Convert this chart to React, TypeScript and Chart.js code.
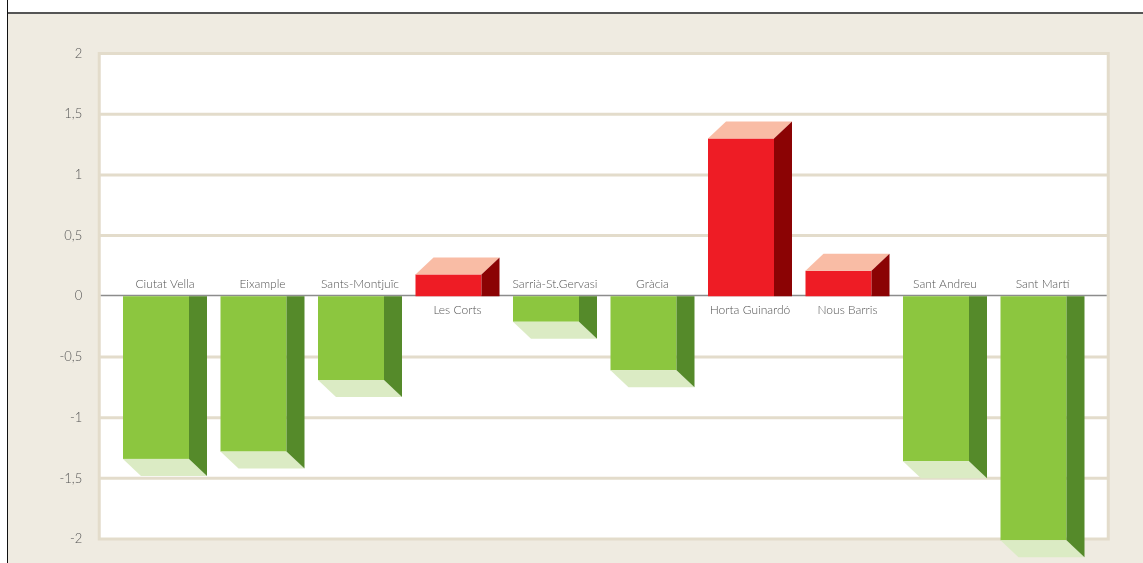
import React, { useEffect, useRef } from "react";
import { Chart, registerables } from "chart.js";

Chart.register(...registerables);

const categories = [
  "Ciutat Vella",
  "Eixample",
  "Sants-Montjuïc",
  "Les Corts",
  "Sarrià-St.Gervasi",
  "Gràcia",
  "Horta Guinardó",
  "Nous Barris",
  "Sant Andreu",
  "Sant Martí",
];
const values = [-1.34, -1.28, -0.69, 0.18, -0.21, -0.61, 1.3, 0.21, -1.36, -2.01];
const yMin = -2;
const yMax = 2;
const yStep = 0.5;

const BG = "#efebe1";
const GRID = "#e3dccb";
const GREEN = { front: "#8cc63f", side: "#558a2a", cap: "#dbebc4" };
const RED = { front: "#ee1c25", side: "#8b0304", cap: "#f9bca5" };
const TEXT = "#555555";
const FONT_FAMILY = "Lato, 'Open Sans', sans-serif";

const DX = 18;
const DY = 17;
const FRONT_W = 66;
const EXTEND = 17;

const decoPlugin = {
  id: "deco",
  beforeDraw(chart: any) {
    const { ctx, chartArea, scales } = chart;
    const y = scales.y;
    ctx.save();
    ctx.fillStyle = BG;
    ctx.fillRect(0, 0, chart.width, chart.height);
    const left = chartArea.left - EXTEND;
    const right = chartArea.right + EXTEND;
    const top = y.getPixelForValue(yMax);
    const bottom = y.getPixelForValue(yMin);
    ctx.fillStyle = "#ffffff";
    ctx.fillRect(left, top, right - left, bottom - top);
    ctx.strokeStyle = GRID;
    ctx.lineWidth = 3;
    for (let v = yMin + yStep; v < yMax - 1e-9; v += yStep) {
      if (Math.abs(v) < 1e-9) continue;
      const py = y.getPixelForValue(v);
      ctx.beginPath();
      ctx.moveTo(left, py);
      ctx.lineTo(right, py);
      ctx.stroke();
    }
    ctx.strokeRect(left, top, right - left, bottom - top);
    const y0 = Math.round(y.getPixelForValue(0)) - 0.5;
    ctx.strokeStyle = "#8c8c8c";
    ctx.lineWidth = 1.5;
    ctx.beginPath();
    ctx.moveTo(left + 1.5, y0);
    ctx.lineTo(right - 1.5, y0);
    ctx.stroke();
    ctx.restore();
  },
  afterDatasetsDraw(chart: any) {
    const { ctx, scales } = chart;
    const meta = chart.getDatasetMeta(0);
    const y0 = scales.y.getPixelForValue(0);
    ctx.save();
    meta.data.forEach((el: any, i: number) => {
      const v = values[i];
      const pal = v >= 0 ? RED : GREEN;
      const fl = el.x - (FRONT_W + DX) / 2;
      const fr = fl + FRONT_W;
      const yv = el.y;
      ctx.fillStyle = pal.front;
      ctx.fillRect(fl, Math.min(yv, y0), FRONT_W, Math.abs(y0 - yv));
      if (v >= 0) {
        ctx.fillStyle = pal.cap;
        ctx.beginPath();
        ctx.moveTo(fl, yv);
        ctx.lineTo(fr, yv);
        ctx.lineTo(fr + DX, yv - DY);
        ctx.lineTo(fl + DX, yv - DY);
        ctx.closePath();
        ctx.fill();
        ctx.fillStyle = pal.side;
        ctx.beginPath();
        ctx.moveTo(fr, yv);
        ctx.lineTo(fr + DX, yv - DY);
        ctx.lineTo(fr + DX, y0);
        ctx.lineTo(fr, y0);
        ctx.closePath();
        ctx.fill();
      } else {
        ctx.fillStyle = pal.cap;
        ctx.beginPath();
        ctx.moveTo(fl, yv);
        ctx.lineTo(fr, yv);
        ctx.lineTo(fr + DX, yv + DY);
        ctx.lineTo(fl + DX, yv + DY);
        ctx.closePath();
        ctx.fill();
        ctx.fillStyle = pal.side;
        ctx.beginPath();
        ctx.moveTo(fr, y0);
        ctx.lineTo(fr + DX, y0);
        ctx.lineTo(fr + DX, yv + DY);
        ctx.lineTo(fr, yv);
        ctx.closePath();
        ctx.fill();
      }
      ctx.fillStyle = TEXT;
      ctx.font = `300 12px ${FONT_FAMILY}`;
      ctx.textAlign = "center";
      ctx.textBaseline = "middle";
      const ly = v >= 0 ? y0 + 14 : y0 - 12;
      ctx.fillText(categories[i], el.x, ly);
    });
    ctx.restore();
  },
};

export default function App() {
  const ref = useRef<HTMLCanvasElement | null>(null);
  useEffect(() => {
    if (!ref.current) return;
    const chart = new Chart(ref.current, {
      type: "bar",
      data: {
        labels: categories,
        datasets: [
          {
            data: values,
            backgroundColor: "rgba(0,0,0,0)",
            borderWidth: 0,
            barThickness: FRONT_W,
            clip: false as any,
          },
        ],
      },
      options: {
        animation: false,
        responsive: false,
        maintainAspectRatio: false,
        devicePixelRatio: 1,
        layout: { padding: { left: 0, right: 51.75, top: 39.5, bottom: 24 } },
        plugins: { legend: { display: false }, tooltip: { enabled: false } },
        scales: {
          x: { type: "category", display: false, offset: true },
          y: {
            min: yMin,
            max: yMax,
            grid: { display: false, drawTicks: false },
            border: { display: false },
            afterFit: (s: any) => {
              s.width = 108.25;
              s.paddingTop = 0;
              s.paddingBottom = 0;
            },
            ticks: {
              stepSize: yStep,
              padding: 34,
              color: TEXT,
              font: { family: FONT_FAMILY, size: 13, weight: "300" as any },
              callback: (v: any) => String(Number(v)).replace(".", ","),
            },
          },
        },
      },
      plugins: [decoPlugin],
    });
    return () => chart.destroy();
  }, []);
  return (
    <div style={{ position: "fixed", left: 0, top: 0, width: 1143, height: 563, background: "#fff", overflow: "hidden" }}>
      <div style={{ position: "absolute", left: 7, top: 0, width: 1, height: 563, background: "#111" }} />
      <div style={{ position: "absolute", left: 8, top: 12, width: 1135, height: 2, background: "#555" }} />
      <canvas
        ref={ref}
        width={1135}
        height={549}
        style={{ position: "absolute", left: 8, top: 14, width: 1135, height: 549, display: "block" }}
      />
    </div>
  );
}
